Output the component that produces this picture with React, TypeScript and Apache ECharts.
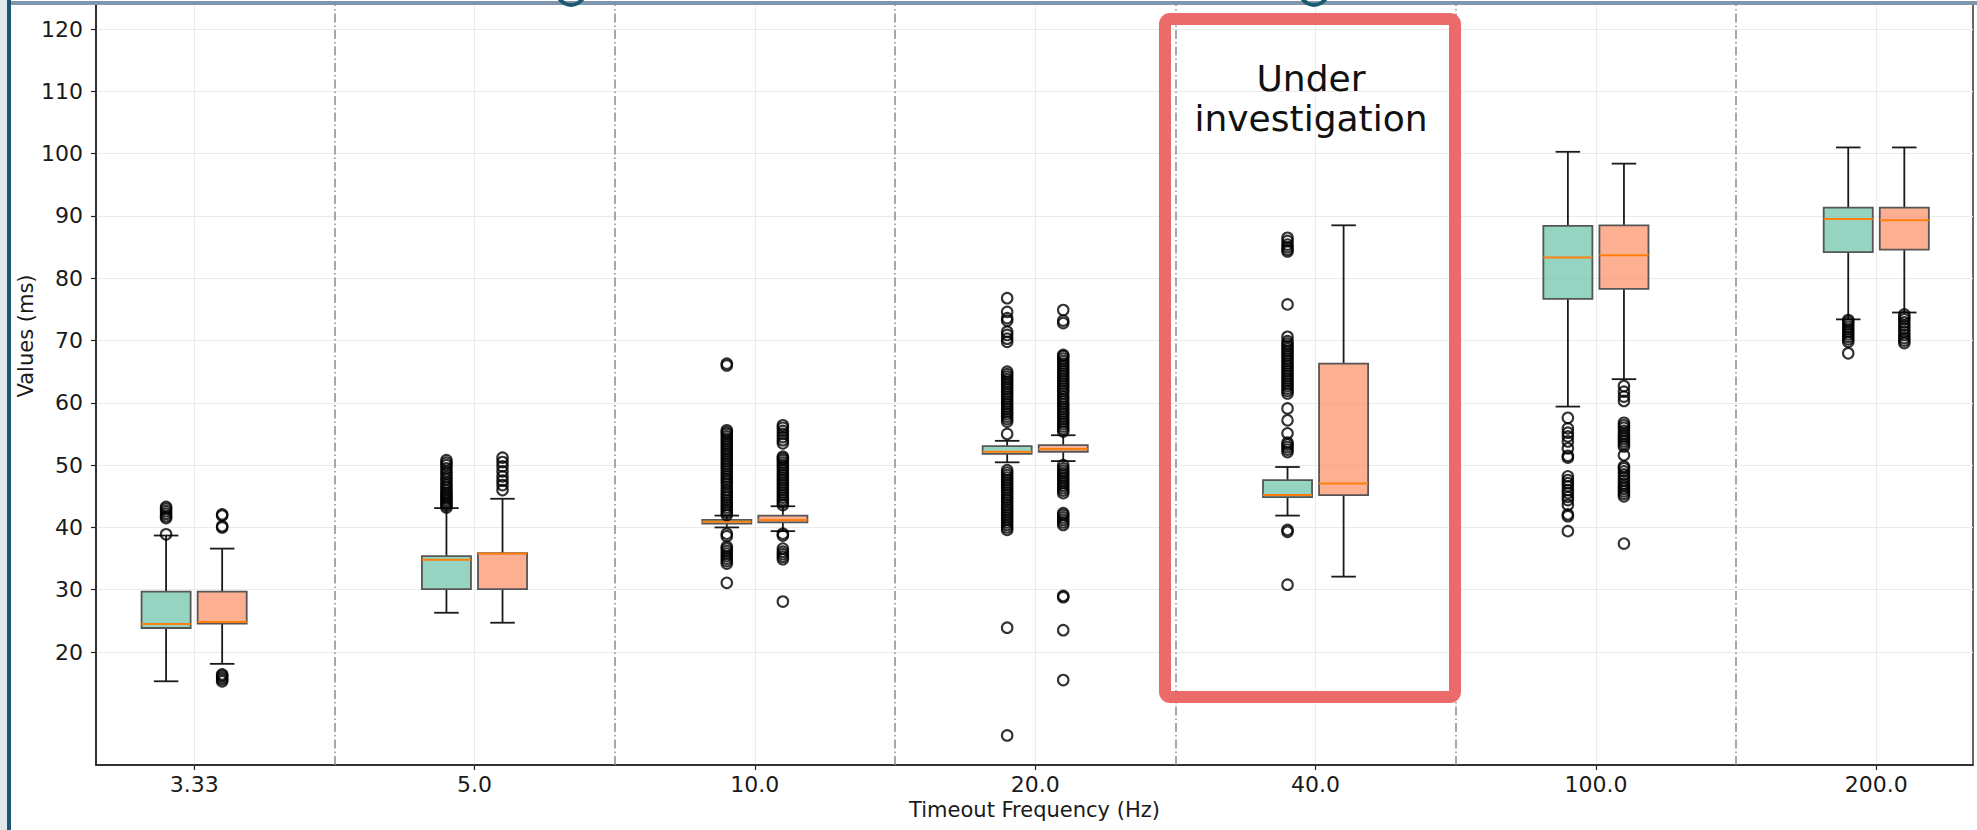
import React, { useEffect, useRef } from 'react';
import * as echarts from 'echarts';

const categories = ['3.33', '5.0', '10.0', '20.0', '40.0', '100.0', '200.0'];
const yTickValues = [20, 30, 40, 50, 60, 70, 80, 90, 100, 110, 120];

// [lower whisker, q1, median, q3, upper whisker]
const greenBoxes = [
  [15.3, 23.85, 24.5, 29.7, 38.7],
  [26.3, 30.1, 34.8, 35.4, 43.1],
  [40.0, 40.6, 40.9, 41.2, 41.9],
  [50.45, 51.8, 52.15, 53.06, 53.9],
  [41.9, 44.85, 45.2, 47.6, 49.7],
  [59.4, 76.7, 83.35, 88.4, 100.3],
  [73.4, 84.2, 89.5, 91.35, 101.0],
];
const orangeBoxes = [
  [18.1, 24.55, 24.8, 29.7, 36.6],
  [24.7, 30.1, 35.8, 35.85, 44.6],
  [39.4, 40.8, 41.2, 41.9, 43.4],
  [50.65, 52.15, 52.6, 53.2, 54.8],
  [32.1, 45.2, 47.05, 66.3, 88.5],
  [63.8, 78.3, 83.7, 88.5, 98.4],
  [74.5, 84.6, 89.3, 91.35, 101.0],
];

const greenOutliers = [
  [38.9, 41.5, 41.8, 42.2, 42.6, 43.0, 43.3],
  [43.2, 43.5, 43.8, 44.1, 44.4, 44.7, 45.0, 45.3, 45.6, 46.0, 46.4, 46.8, 47.2, 47.7, 48.1, 48.6, 49.0, 49.5, 50.0, 50.4, 50.8],
  [31.1, 34.2, 34.6, 35.0, 35.4, 35.8, 36.2, 36.6, 36.9, 38.6, 39.0,
    42.0, 42.4, 42.8, 43.2, 43.6, 44.0, 44.4, 44.8, 45.2, 45.6, 46.0, 46.5, 47.0, 47.4, 47.8, 48.2, 48.6,
    49.0, 49.4, 49.8, 50.2, 50.6, 51.0, 51.4, 51.8, 52.2, 52.6, 53.0, 53.4, 53.8, 54.2, 54.6, 55.0, 55.3, 55.6,
    66.0, 66.3],
  [6.6, 23.9,
    39.6, 40.0, 40.4, 40.8, 41.2, 41.6, 42.0, 42.4, 42.8, 43.2, 43.6, 44.0, 44.4, 44.8, 45.2, 45.6, 46.0, 46.4,
    46.8, 47.2, 47.6, 48.0, 48.4, 48.8, 49.2,
    55.0, 57.0, 57.4, 57.8, 58.2, 58.6, 59.0, 59.4, 59.8, 60.2, 60.6, 61.0, 61.4, 61.8, 62.2, 62.6, 63.0, 63.4,
    63.8, 64.2, 64.6, 65.0, 69.8, 70.3, 70.9, 71.4, 73.2, 73.6, 74.6, 76.8],
  [30.8, 39.3, 39.6, 52.1, 52.5, 52.9, 53.3, 53.6, 55.1, 57.2, 59.1,
    61.5, 61.9, 62.3, 62.7, 63.1, 63.5, 63.9, 64.3, 64.7, 65.1, 65.5, 65.9, 66.3, 66.7, 67.1, 67.5, 67.9,
    68.3, 68.7, 69.1, 69.5, 69.9, 70.6, 75.8, 84.3, 84.6, 85.0, 85.4, 86.0, 86.5],
  [39.4, 41.8, 42.1, 43.6, 44.4, 44.9, 45.5, 46.0, 46.6, 47.1, 47.6, 48.2, 51.2, 51.5, 52.7, 53.8, 54.6, 55.2, 55.9, 57.6],
  [67.95, 69.8, 70.2, 70.6, 71.0, 71.4, 71.8, 72.2, 72.6, 73.0, 73.3],
];
const orangeOutliers = [
  [15.3, 15.6, 15.9, 16.2, 16.4, 40.0, 40.2, 41.9, 42.1],
  [46.0, 46.8, 47.5, 48.2, 49.0, 49.8, 50.5, 51.2],
  [28.1, 34.9, 35.3, 35.7, 36.1, 36.6, 38.7, 39.0,
    43.6, 44.0, 44.4, 44.8, 45.2, 45.6, 46.0, 46.4, 46.8, 47.2, 47.6, 48.0, 48.4, 48.8, 49.2, 49.6, 50.0,
    50.4, 50.8, 51.1, 51.35, 53.5, 54.0, 54.5, 55.0, 55.5, 56.0, 56.4],
  [15.5, 23.5, 28.8, 29.0, 40.4, 40.8, 41.2, 41.6, 42.0, 42.3,
    45.5, 45.9, 46.3, 46.7, 47.1, 47.5, 47.9, 48.3, 48.7, 49.1, 49.5, 50.0,
    55.4, 55.8, 56.2, 56.6, 57.0, 57.4, 57.8, 58.2, 58.6, 59.0, 59.4, 59.8, 60.2, 60.6, 61.0,
    61.5, 61.9, 62.3, 62.7, 63.1, 63.5, 63.9, 64.3, 64.7, 65.1, 65.5, 65.9, 66.3, 66.7, 67.1, 67.5, 67.7,
    72.8, 73.2, 74.9],
  [],
  [37.4, 45.0, 45.4, 45.8, 46.2, 46.6, 47.0, 47.5, 48.0, 48.5, 49.0, 49.5, 49.8, 51.6,
    53.0, 53.4, 53.8, 54.2, 54.6, 55.0, 55.5, 56.0, 56.4, 56.8, 60.3, 61.0, 61.8, 62.7],
  [69.6, 70.0, 70.4, 70.9, 71.4, 71.9, 72.4, 72.9, 73.4, 73.8, 74.2],
];

const GREEN_FILL = 'rgba(102,194,165,0.7)';
const ORANGE_FILL = 'rgba(252,141,98,0.7)';
const OFFSET = 0.1;
const BOX_W = 0.175;
const FONT = 'DejaVu Sans';
// the plot's top edge lies above the visible page: the chart div starts this far above it
const SHIFT = 93;

export default function App() {
  const ref = useRef<HTMLDivElement>(null);

  useEffect(() => {
    const chart = echarts.init(ref.current as HTMLDivElement, null, { renderer: 'svg' });

    const boxData = (boxes: number[][], off: number) => boxes.map((b, i) => [i + 1 + off, ...b]);
    const outData = (outs: number[][], off: number) =>
      outs.flatMap((vals, i) => vals.map((v) => [i + 1 + off, v]));

    const renderBox = (fill: string) => (params: any, api: any) => {
      const x = api.value(0);
      const cx = api.coord([x, api.value(1)])[0];
      const yLow = api.coord([x, api.value(1)])[1];
      const yQ1 = api.coord([x, api.value(2)])[1];
      const yMed = api.coord([x, api.value(3)])[1];
      const yQ3 = api.coord([x, api.value(4)])[1];
      const yHigh = api.coord([x, api.value(5)])[1];
      const w = api.size([BOX_W, 0])[0];
      const cap = w / 2;
      const wStyle = { stroke: '#1a1a1a', lineWidth: 1.8 };
      return {
        type: 'group',
        children: [
          { type: 'line', shape: { x1: cx, y1: yQ3, x2: cx, y2: yHigh }, style: wStyle },
          { type: 'line', shape: { x1: cx, y1: yQ1, x2: cx, y2: yLow }, style: wStyle },
          { type: 'line', shape: { x1: cx - cap / 2, y1: yHigh, x2: cx + cap / 2, y2: yHigh }, style: wStyle },
          { type: 'line', shape: { x1: cx - cap / 2, y1: yLow, x2: cx + cap / 2, y2: yLow }, style: wStyle },
          {
            type: 'rect',
            shape: { x: cx - w / 2, y: yQ3, width: w, height: Math.max(yQ1 - yQ3, 1) },
            style: { fill, stroke: '#555555', lineWidth: 1.8 },
          },
          {
            type: 'line',
            shape: { x1: cx - w / 2, y1: yMed, x2: cx + w / 2, y2: yMed },
            style: { stroke: '#ff7f0e', lineWidth: 2 },
          },
        ],
      };
    };

    const xTickValues = categories.map((_, i) => i + 1);
    const separators = categories.slice(1).map((_, i) => i + 1.5);
    const labelStyle = { color: '#1a1a1a', fontFamily: FONT, fontSize: 22 };
    const nameStyle = { color: '#1a1a1a', fontFamily: FONT, fontSize: 21 };
    const flierStyle = { color: 'rgba(255,255,255,0)', borderColor: '#000000', borderWidth: 2.1 };

    chart.setOption({
      animation: false,
      backgroundColor: '#ffffff',
      grid: {
        left: 96,
        right: 4,
        top: 0,
        bottom: 65,
        show: true,
        borderColor: '#333333',
        borderWidth: 1.5,
        backgroundColor: 'transparent',
      },
      xAxis: {
        type: 'value',
        min: 0.65,
        max: 7.345,
        name: 'Timeout Frequency (Hz)',
        nameLocation: 'middle',
        nameGap: 34,
        nameMoveOverlap: false,
        nameTextStyle: nameStyle,
        axisLine: { show: true, lineStyle: { color: '#222222', width: 1.5 } },
        axisTick: { show: true, customValues: xTickValues, length: 5, lineStyle: { color: '#222222', width: 1.2 } },
        axisLabel: {
          customValues: xTickValues,
          formatter: (v: number) => categories[Math.round(v) - 1] ?? '',
          margin: 8,
          ...labelStyle,
        },
        splitLine: { show: true, lineStyle: { color: '#ebebeb', width: 1 } },
      },
      yAxis: {
        type: 'value',
        min: 1.86,
        max: 139.6,
        name: 'Values (ms)',
        nameLocation: 'middle',
        nameGap: 60,
        nameMoveOverlap: false,
        nameTextStyle: nameStyle,
        axisLine: { show: true, lineStyle: { color: '#222222', width: 1.5 } },
        axisTick: { show: true, customValues: yTickValues, length: 5, lineStyle: { color: '#222222', width: 1.2 } },
        axisLabel: { customValues: yTickValues, margin: 13, ...labelStyle },
        splitLine: { show: true, lineStyle: { color: '#ebebeb', width: 1 } },
      },
      series: [
        {
          type: 'custom',
          name: 'green',
          renderItem: renderBox(GREEN_FILL),
          data: boxData(greenBoxes, -OFFSET),
          encode: { x: 0, y: [1, 2, 3, 4, 5] },
          z: 3,
          markLine: {
            silent: true,
            symbol: 'none',
            label: { show: false },
            lineStyle: { color: '#8c8c8c', width: 1.5, type: [9, 3, 1.5, 3] },
            data: separators.map((s) => ({ xAxis: s })),
          },
        },
        {
          type: 'custom',
          name: 'orange',
          renderItem: renderBox(ORANGE_FILL),
          data: boxData(orangeBoxes, OFFSET),
          encode: { x: 0, y: [1, 2, 3, 4, 5] },
          z: 3,
        },
        {
          type: 'scatter',
          data: outData(greenOutliers, -OFFSET),
          symbol: 'circle',
          symbolSize: 10.5,
          itemStyle: flierStyle,
          z: 4,
        },
        {
          type: 'scatter',
          data: outData(orangeOutliers, OFFSET),
          symbol: 'circle',
          symbolSize: 10.5,
          itemStyle: flierStyle,
          z: 4,
        },
      ],
      graphic: [
        { type: 'rect', z: 100, shape: { x: 0, y: 0, width: 7, height: 830 + SHIFT }, style: { fill: '#e2e7eb' } },
        { type: 'rect', z: 100, shape: { x: 7, y: 0, width: 4, height: 830 + SHIFT }, style: { fill: '#1b5674' } },
        { type: 'rect', z: 100, shape: { x: 11, y: 1 + SHIFT, width: 1966, height: 4 }, style: { fill: '#8097ab' } },
        { type: 'rect', z: 100, shape: { x: 11, y: 0, width: 1966, height: SHIFT + 1 }, style: { fill: '#ffffff' } },
        { type: 'ring', z: 101, shape: { cx: 571, cy: SHIFT - 9, r: 16, r0: 12 }, style: { fill: '#1b5a73' } },
        { type: 'ring', z: 101, shape: { cx: 1314, cy: SHIFT - 9, r: 16, r0: 12 }, style: { fill: '#1b5a73' } },
        {
          type: 'rect',
          z: 100,
          shape: { x: 1165, y: 19 + SHIFT, width: 290, height: 678, r: 5 },
          style: { fill: 'none', stroke: '#eb6b6b', lineWidth: 12 },
        },
        {
          type: 'text',
          z: 101,
          x: 1311,
          y: 78 + SHIFT,
          style: { text: 'Under', fill: '#111111', font: '36px "DejaVu Sans"', align: 'center', verticalAlign: 'middle' },
        },
        {
          type: 'text',
          z: 101,
          x: 1311,
          y: 118 + SHIFT,
          style: { text: 'investigation', fill: '#111111', font: '36px "DejaVu Sans"', align: 'center', verticalAlign: 'middle' },
        },
      ],
    });

    return () => chart.dispose();
  }, []);

  return (
    <div
      ref={ref}
      style={{ position: 'fixed', left: 0, top: -SHIFT, width: 1977, height: 830 + SHIFT, background: '#fff' }}
    />
  );
}
